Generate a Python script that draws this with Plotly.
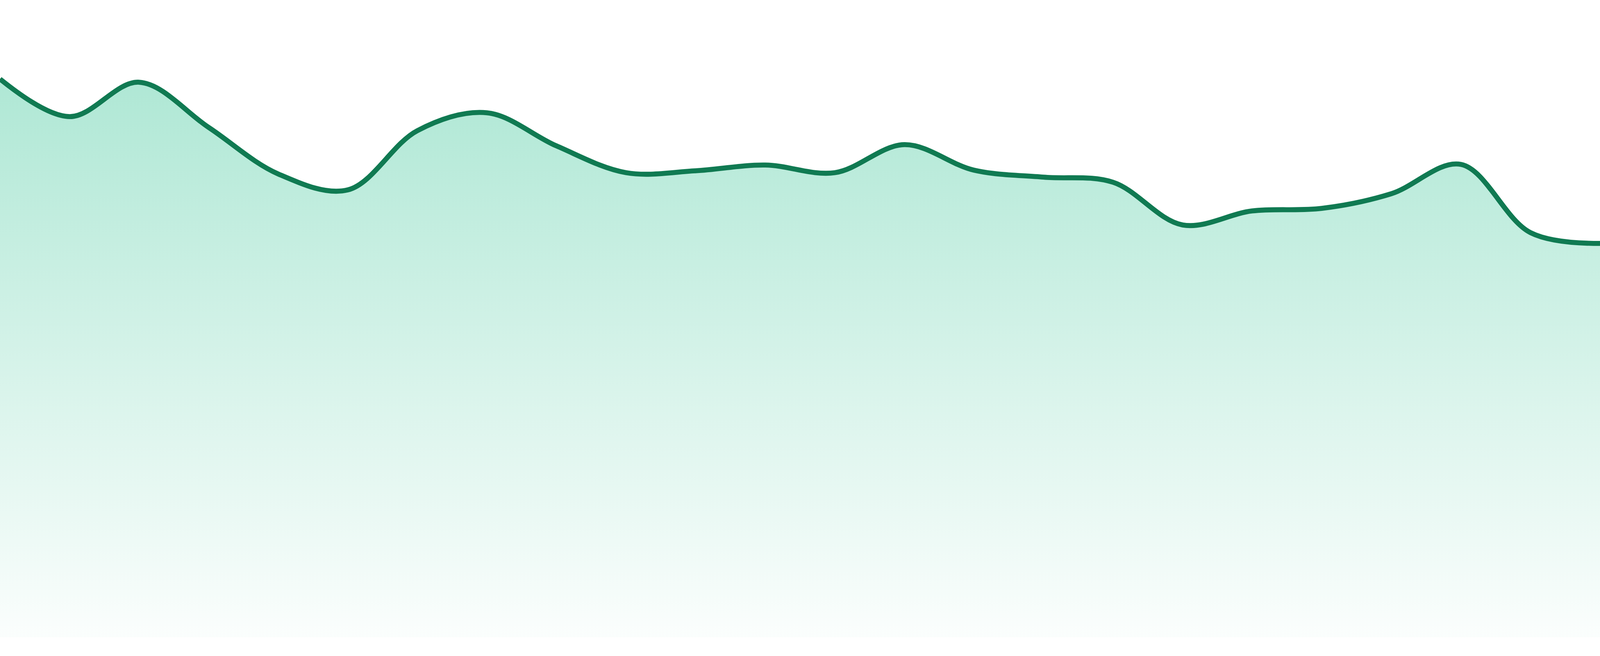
import plotly.graph_objects as go

# hourly readings (arbitrary 0-100 scale)
hours = list(range(24))
values = [87.6, 81.7, 87.1, 80.0, 72.7, 70.2, 79.5, 82.3, 77.1, 72.9, 73.2, 74.1,
          72.9, 77.3, 73.3, 72.2, 71.4, 64.7, 66.9, 67.3, 69.6, 74.2, 63.5, 61.8]

LINE_COLOR = "#107a52"
LINE_WIDTH = 15  # at a 4800px wide page
Y_TOP = 100
Y_BOTTOM = -2.94  # leaves the thin white strip under the fill

fig = go.Figure(go.Scatter(
    x=hours,
    y=values,
    mode="lines",
    line=dict(color=LINE_COLOR, width=LINE_WIDTH, shape="spline", smoothing=1),
    fill="tozeroy",
    fillgradient=dict(
        type="vertical",
        colorscale=[[0, "rgba(16,185,129,0.02)"], [1, "rgba(16,185,129,0.38)"]],
        start=0,
        stop=Y_TOP,
    ),
    hoverinfo="skip",
))

fig.update_layout(
    margin=dict(l=0, r=0, t=0, b=0, pad=0),
    paper_bgcolor="white",
    plot_bgcolor="white",
    showlegend=False,
    xaxis=dict(range=[0, 23], visible=False, showgrid=False, zeroline=False),
    yaxis=dict(range=[Y_BOTTOM, Y_TOP], visible=False, showgrid=False, zeroline=False),
)

# fill the whole window, no body margin; keep the line width relative to a 4800px page
post = """
document.documentElement.style.height = '100%';
document.body.style.margin = '0';
document.body.style.height = '100%';
document.body.style.overflow = 'hidden';
var gd = document.getElementById('{plot_id}');
gd.style.width = '100vw';
gd.style.height = '100vh';
Plotly.Plots.resize(gd);
Plotly.restyle(gd, {'line.width': LW * window.innerWidth / 4800});
""".replace("LW", str(LINE_WIDTH))

fig.write_html("out.html", post_script=post, config={"responsive": True, "displayModeBar": False})
